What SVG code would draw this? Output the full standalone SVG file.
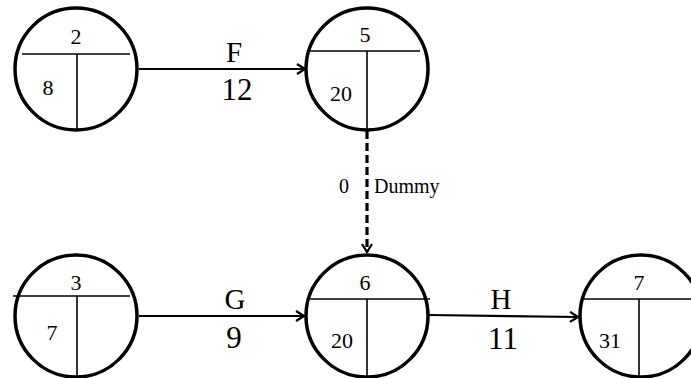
<svg xmlns="http://www.w3.org/2000/svg" width="691" height="378" viewBox="0 0 691 378">
<defs>
<style>
.c{fill:none;stroke:#000;stroke-width:3.5}
.d{stroke:#000;stroke-width:1.6;fill:none}
.e{stroke:#000;stroke-width:2.2;fill:none}
.n{font-family:"Liberation Serif",serif;font-size:22px;fill:#000;text-anchor:middle}
.l{font-family:"Liberation Serif",serif;font-size:29px;fill:#000;text-anchor:middle}
.m{font-family:"Liberation Serif",serif;font-size:31px;fill:#000;text-anchor:middle}
.s{font-family:"Liberation Serif",serif;font-size:20px;fill:#000}
</style>
<marker id="a" viewBox="0 0 12 12" refX="11" refY="6" markerWidth="12" markerHeight="12" markerUnits="userSpaceOnUse" orient="auto">
<path d="M3,1 L11,6 L3,11" fill="none" stroke="#000" stroke-width="2.2"/>
</marker>
</defs>
<rect width="691" height="378" fill="#fff"/>
<g id="connectors">
<line class="e" x1="139" y1="69" x2="305" y2="69" marker-end="url(#a)"/>
<text class="l" x="234" y="62">F</text>
<text class="m" x="237" y="100">12</text>
<line class="e" x1="139" y1="316" x2="304" y2="316" marker-end="url(#a)"/>
<text class="l" x="235" y="309">G</text>
<text class="m" x="234" y="348">9</text>
<line class="e" x1="429" y1="315" x2="578" y2="317" marker-end="url(#a)"/>
<text class="l" x="501" y="309">H</text>
<text class="m" x="503" y="349">11</text>
<line x1="367" y1="131" x2="367" y2="252" stroke="#000" stroke-width="3.2" stroke-dasharray="8,4" marker-end="url(#a)"/>
<text class="s" x="339" y="193" font-size="23">0</text>
<text class="s" x="374" y="193">Dummy</text>
</g>
<g id="node2">
<circle class="c" cx="76" cy="69" r="61"/>
<line class="d" x1="22" y1="54" x2="130" y2="54"/>
<line class="d" x1="77" y1="54" x2="77" y2="130"/>
<text class="n" x="76" y="44">2</text>
<text class="n" x="48" y="95">8</text>
</g>
<g id="node5">
<circle class="c" cx="367" cy="69" r="61"/>
<line class="d" x1="310" y1="51" x2="420" y2="51"/>
<line class="d" x1="367" y1="51" x2="367" y2="130"/>
<text class="n" x="365" y="42">5</text>
<text class="n" x="341" y="101">20</text>
</g>
<g id="node3">
<circle class="c" cx="76" cy="316" r="61"/>
<line class="d" x1="13" y1="296" x2="130" y2="296"/>
<line class="d" x1="77" y1="296" x2="77" y2="378"/>
<text class="n" x="76" y="290">3</text>
<text class="n" x="52" y="340">7</text>
</g>
<g id="node6">
<circle class="c" cx="367" cy="316" r="61"/>
<line class="d" x1="310" y1="299" x2="430" y2="299"/>
<line class="d" x1="367" y1="299" x2="367" y2="378"/>
<text class="n" x="365" y="290">6</text>
<text class="n" x="342" y="348">20</text>
</g>
<g id="node7">
<circle class="c" cx="641" cy="316" r="61"/>
<line class="d" x1="581" y1="299" x2="691" y2="299"/>
<line class="d" x1="639" y1="299" x2="639" y2="378"/>
<text class="n" x="639" y="290">7</text>
<text class="n" x="610" y="348">31</text>
</g>
</svg>
